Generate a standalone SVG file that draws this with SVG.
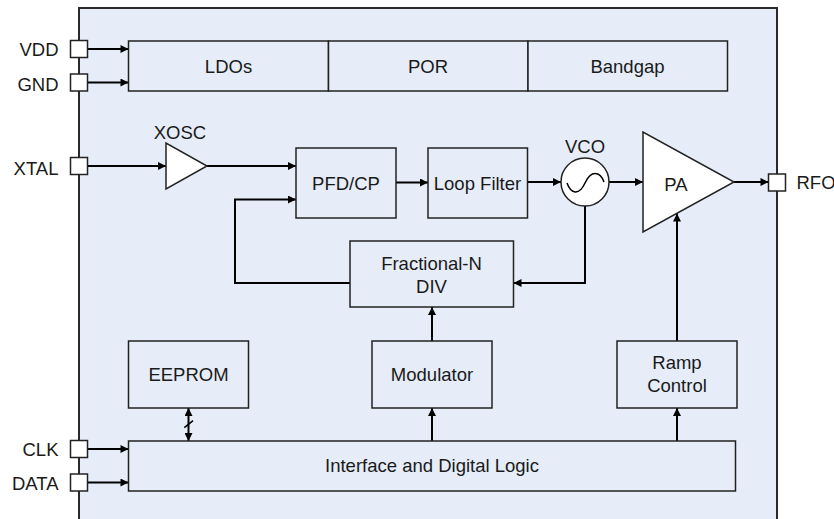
<svg xmlns="http://www.w3.org/2000/svg" width="834" height="519" viewBox="0 0 834 519">
<defs>
<style>
.bg{fill:#E6EDF8;stroke:#2a2a2a;stroke-width:2}
.box{fill:#E6EDF8;stroke:#222;stroke-width:1.5}
.pin{fill:#fff;stroke:#222;stroke-width:1.5}
.sym{fill:#fff;stroke:#222;stroke-width:1.5}
.w{fill:none;stroke:#000;stroke-width:2}
.a{fill:none;stroke:#000;stroke-width:2;marker-end:url(#ah)}
.t{font-family:"Liberation Sans",Arial,sans-serif;font-size:18.5px;fill:#1a1a1a;text-anchor:middle}
.l{text-anchor:end}
.s{text-anchor:start}
</style>
<marker id="ah" viewBox="0 0 10 10" refX="10" refY="5" markerUnits="userSpaceOnUse" markerWidth="9" markerHeight="8" orient="auto-start-reverse">
<path d="M0,0 L10,5 L0,10 z" fill="#000"/>
</marker>
</defs>
<rect class="bg" x="79" y="8" width="698" height="530"/>

<g id="connectors">
<line class="a" x1="87.5" y1="49" x2="128.5" y2="49"/>
<line class="a" x1="87.5" y1="82.5" x2="128.5" y2="82.5"/>
<line class="a" x1="87.5" y1="166" x2="166" y2="166"/>
<line class="a" x1="207" y1="166" x2="296" y2="166"/>
<polyline class="a" points="350,283 235,283 235,199.5 296,199.5"/>
<line class="a" x1="396" y1="182.5" x2="428" y2="182.5"/>
<line class="a" x1="527.5" y1="182" x2="561" y2="182"/>
<line class="a" x1="609" y1="182" x2="643" y2="182"/>
<line class="a" x1="734" y1="182" x2="768.5" y2="182"/>
<polyline class="a" points="585,206 585,283 513.5,283"/>
<line class="a" x1="432" y1="341" x2="432" y2="307"/>
<line class="a" x1="432" y1="441" x2="432" y2="408"/>
<line class="a" x1="677" y1="441" x2="677" y2="408"/>
<line class="a" x1="677" y1="341" x2="677" y2="213.5"/>
<line class="a" x1="188.5" y1="424" x2="188.5" y2="408"/>
<line class="a" x1="188.5" y1="424" x2="188.5" y2="441"/>
<line class="w" x1="184.3" y1="427.7" x2="193" y2="420.7" style="stroke-width:1.5"/>
<line class="a" x1="87.5" y1="449" x2="128.5" y2="449"/>
<line class="a" x1="87.5" y1="482.5" x2="128.5" y2="482.5"/>
</g>

<g id="pin-vdd"><rect class="pin" x="70.5" y="40.5" width="17" height="17"/><text class="t l" x="58.5" y="55.5">VDD</text></g>
<g id="pin-gnd"><rect class="pin" x="70.5" y="74" width="17" height="17"/><text class="t l" x="58.5" y="90.5">GND</text></g>
<g id="pin-xtal"><rect class="pin" x="70.5" y="157.5" width="17" height="17"/><text class="t l" x="58.5" y="175">XTAL</text></g>
<g id="pin-clk"><rect class="pin" x="70.5" y="440.5" width="17" height="17"/><text class="t l" x="58.5" y="456">CLK</text></g>
<g id="pin-data"><rect class="pin" x="70.5" y="474" width="17" height="17"/><text class="t l" x="58.5" y="490">DATA</text></g>
<g id="pin-rfo"><rect class="pin" x="768.5" y="174" width="17" height="17"/><text class="t s" x="796.5" y="189">RFO</text></g>

<g id="ldos"><rect class="box" x="128.5" y="41" width="200" height="50"/><text class="t" x="228.5" y="72.5">LDOs</text></g>
<g id="por"><rect class="box" x="328.5" y="41" width="199.5" height="50"/><text class="t" x="428" y="72.5">POR</text></g>
<g id="bandgap"><rect class="box" x="528" y="41" width="199.5" height="50"/><text class="t" x="627.5" y="72.5">Bandgap</text></g>

<g id="xosc"><polygon class="sym" points="166,143 166,189 207,166"/><text class="t" x="180" y="138.5">XOSC</text></g>
<g id="pfdcp"><rect class="box" x="296" y="148" width="100" height="70"/><text class="t" x="346" y="189.5">PFD/CP</text></g>
<g id="loopfilter"><rect class="box" x="428" y="148" width="99.5" height="70"/><text class="t" x="477.5" y="189.5">Loop Filter</text></g>
<g id="vco"><circle class="sym" cx="585" cy="182" r="24"/><path class="w" style="stroke-width:1.5" d="M567,183 C571,194 579,196 585,183 C591,170 600,171 604,182"/><text class="t" x="585" y="152.5">VCO</text></g>
<g id="pa"><polygon class="sym" points="643,132 643,232 734,182"/><text class="t" x="676" y="190.5">PA</text></g>
<g id="fracn"><rect class="box" x="350" y="241" width="163.5" height="66"/><text class="t" x="431.5" y="269.5">Fractional-N</text><text class="t" x="431.5" y="292.5">DIV</text></g>
<g id="eeprom"><rect class="box" x="128.5" y="341" width="120" height="67"/><text class="t" x="188.5" y="381">EEPROM</text></g>
<g id="modulator"><rect class="box" x="372" y="341" width="120" height="67"/><text class="t" x="432" y="381">Modulator</text></g>
<g id="ramp"><rect class="box" x="617" y="341" width="120" height="67"/><text class="t" x="677" y="368.5">Ramp</text><text class="t" x="677" y="391.5">Control</text></g>
<g id="interface"><rect class="box" x="128.5" y="441" width="607" height="50"/><text class="t" x="432" y="471.5">Interface and Digital Logic</text></g>
</svg>
